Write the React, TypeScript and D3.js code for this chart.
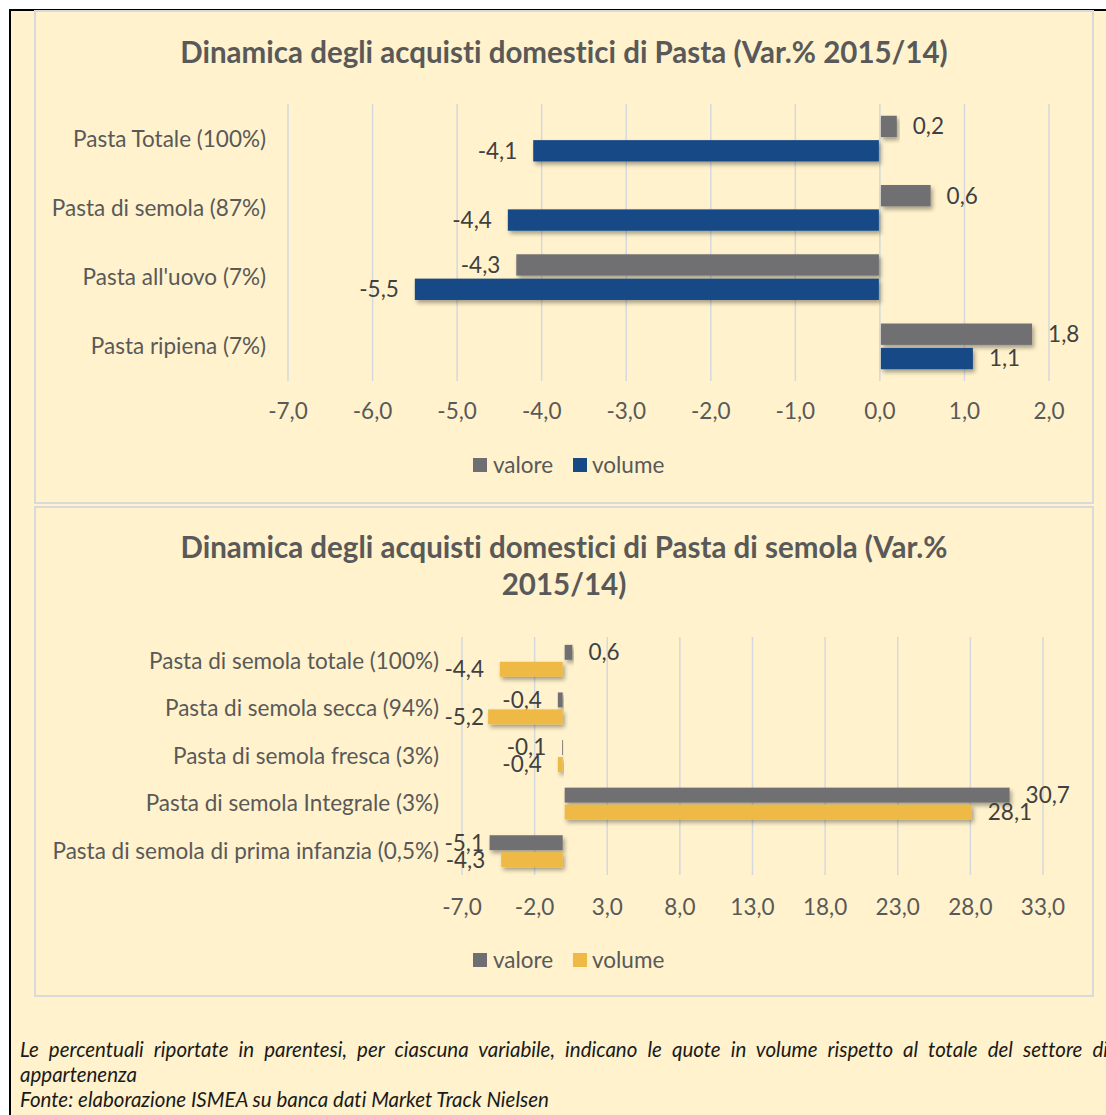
import React, { useEffect, useRef } from 'react';
import * as d3 from 'd3';

const W = 1106;
const H = 1115;

// top chart: Pasta
const pastaCats = ['Pasta Totale (100%)', 'Pasta di semola (87%)', "Pasta all'uovo (7%)", 'Pasta ripiena (7%)'];
const pastaValore = [0.2, 0.6, -4.3, 1.8];
const pastaVolume = [-4.1, -4.4, -5.5, 1.1];
const pastaTicks = [-7, -6, -5, -4, -3, -2, -1, 0, 1, 2];

// bottom chart: Pasta di semola
const semolaCats = [
  'Pasta di semola totale (100%)',
  'Pasta di semola secca (94%)',
  'Pasta di semola fresca (3%)',
  'Pasta di semola Integrale (3%)',
  'Pasta di semola di prima infanzia (0,5%)',
];
const semolaValore = [0.6, -0.4, -0.1, 30.7, -5.1];
const semolaVolume = [-4.4, -5.2, -0.4, 28.1, -4.3];
const semolaTicks = [-7, -2, 3, 8, 13, 18, 23, 28, 33];

const FONT = 'Lato, "Open Sans", sans-serif';
const BG = '#FFF2CC';
const GREY = '#6F6F73';
const BLUE = '#174A85';
const YELLOW = '#EEBA45';
const TEXT = '#595959';
const LABEL = '#404040';
const GRID = '#D5D8DE';
const FS = 22.5;

const fmt = (v: number) => v.toFixed(1).replace('.', ',');

interface BarChartProps {
  cats: string[];
  valore: number[];
  volume: number[];
  ticks: number[];
  color2: string;
  x0: number;
  x1: number;
  y0: number;
  y1: number;
  labelRight: number;
  tickY: number;
  legendY: number;
  groupFrac: number;
  gap: number;
  minLabelEnd?: number;
}

const BarChart: React.FC<BarChartProps> = ({
  cats, valore, volume, ticks, color2, x0, x1, y0, y1, labelRight, tickY, legendY, groupFrac, gap,
  minLabelEnd = 0,
}) => {
  const x = d3.scaleLinear().domain([ticks[0], ticks[ticks.length - 1]]).range([x0, x1]);
  const y = d3.scaleBand<string>().domain(cats).range([y0, y1]);
  const bw = y.bandwidth();
  const group = bw * groupFrac;
  const barH = (group - gap) / 2;

  const bar = (v: number, top: number, fill: string, key: string) => {
    const xs = x(0);
    const xe = x(v);
    const left = Math.min(xs, xe) + (v >= 0 ? 1 : 0);
    const w = Math.max(Math.abs(xe - xs) - 1, 0.8);
    const cy = top + barH / 2;
    // labels sit outside the bar end, but are kept inside the plot area
    const lx = v >= 0 ? xe + 16 : Math.max(xe - 16, minLabelEnd);
    return (
      <g key={key}>
        <rect x={left} y={top} width={w} height={barH} fill={fill} filter="url(#shadow)" />
        <text x={lx} y={cy} dy="0.35em" textAnchor={v >= 0 ? 'start' : 'end'} fontSize={FS} fill={LABEL}>
          {fmt(v)}
        </text>
      </g>
    );
  };

  return (
    <g fontFamily={FONT} style={{ fontVariantLigatures: 'none' }}>
      {ticks.map((t) => (
        <g key={t}>
          <line x1={x(t)} x2={x(t)} y1={y0} y2={y1} stroke={GRID} strokeWidth={1.5} />
          <text x={x(t)} y={tickY} dy="0.35em" textAnchor="middle" fontSize={FS} fill={TEXT}>
            {fmt(t)}
          </text>
        </g>
      ))}
      {cats.map((c, i) => {
        const top = (y(c) as number) + (bw - group) / 2;
        return (
          <g key={c}>
            <text x={labelRight} y={(y(c) as number) + bw / 2} dy="0.35em" textAnchor="end" fontSize={FS} fill={TEXT}>
              {c}
            </text>
            {bar(valore[i], top, GREY, 'v')}
            {bar(volume[i], top + barH + gap, color2, 'o')}
          </g>
        );
      })}
      <g transform={`translate(473,${legendY})`}>
        <rect x={0} y={-7} width={14} height={14} fill={GREY} />
        <text x={20} y={0} dy="0.35em" fontSize={FS} fill={TEXT}>valore</text>
        <rect x={100} y={-7} width={14} height={14} fill={color2} />
        <text x={119} y={0} dy="0.35em" fontSize={FS} fill={TEXT}>volume</text>
      </g>
    </g>
  );
};

export default function App() {
  const noteRef = useRef<SVGTextElement>(null);

  // justify the first footnote line by widening the word spaces
  useEffect(() => {
    const el = noteRef.current;
    if (!el) return;
    el.setAttribute('word-spacing', '0');
    const len = el.getComputedTextLength();
    const spaces = (el.textContent || '').split(' ').length - 1;
    const target = 1108 - 20;
    if (spaces > 0) el.setAttribute('word-spacing', String((target - len) / spaces));
  }, []);

  return (
    <svg
      width={W}
      height={H}
      viewBox={`0 0 ${W} ${H}`}
      style={{ position: 'absolute', left: 0, top: 0, background: '#fff' }}
    >
      <defs>
        <filter id="shadow" x="-10%" y="-30%" width="130%" height="190%">
          <feDropShadow dx="2" dy="3" stdDeviation="2" floodColor="#000" floodOpacity="0.35" />
        </filter>
      </defs>
      <rect x={10} y={10} width={W + 20} height={H + 20} fill={BG} stroke="#000" strokeWidth={2} />

      <rect x={35} y={11} width={1058} height={492} fill={BG} stroke="#D9D9D9" strokeWidth={2} />
      <rect x={35} y={507} width={1058} height={489} fill={BG} stroke="#D9D9D9" strokeWidth={2} />

      <g fontFamily={FONT} fontWeight="bold" fontSize={29.5} fill={TEXT} textAnchor="middle" style={{ fontVariantLigatures: 'none' }}>
        <text x={564} y={63}>Dinamica degli acquisti domestici di Pasta (Var.% 2015/14)</text>
        <text x={564} y={558}>Dinamica degli acquisti domestici di Pasta di semola (Var.%</text>
        <text x={564} y={595}>2015/14)</text>
      </g>

      <BarChart
        cats={pastaCats}
        valore={pastaValore}
        volume={pastaVolume}
        ticks={pastaTicks}
        color2={BLUE}
        x0={288}
        x1={1049}
        y0={104}
        y1={381}
        labelRight={266}
        tickY={411}
        legendY={465}
        groupFrac={0.66}
        gap={3}
      />

      <BarChart
        cats={semolaCats}
        valore={semolaValore}
        volume={semolaVolume}
        ticks={semolaTicks}
        color2={YELLOW}
        x0={462}
        x1={1043}
        y0={637}
        y1={875}
        labelRight={439}
        tickY={907}
        legendY={960}
        groupFrac={0.67}
        gap={2}
        minLabelEnd={484}
      />

      <g fontFamily={FONT} fontStyle="italic" fontSize={20.5} fill="#1a1a1a" style={{ fontVariantLigatures: 'none' }}>
        <text ref={noteRef} x={20} y={1057}>
          Le percentuali riportate in parentesi, per ciascuna variabile, indicano le quote in volume rispetto al totale del settore di
        </text>
        <text x={20} y={1082}>appartenenza</text>
        <text x={20} y={1107}>Fonte: elaborazione ISMEA su banca dati Market Track Nielsen</text>
      </g>
    </svg>
  );
}
